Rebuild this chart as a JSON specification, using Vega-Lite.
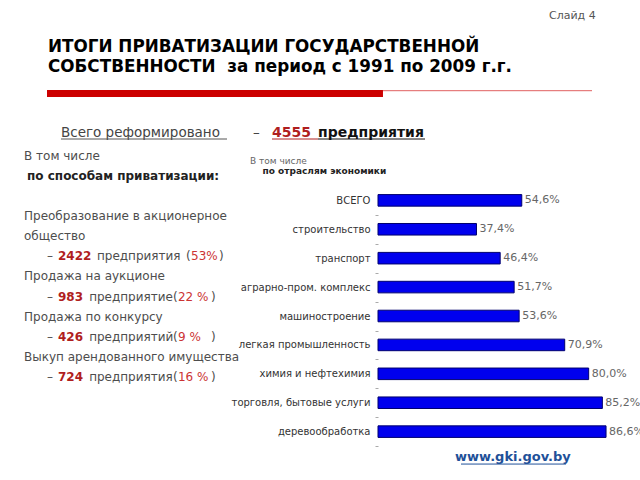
{
  "$schema": "https://vega.github.io/schema/vega-lite/v6.json",
  "background": "white",
  "padding": {"left": 24, "top": 10, "right": 0, "bottom": 0},
  "bounds": "flush",
  "spacing": 0,
  "config": {
    "font": "DejaVu Sans",
    "view": {"stroke": null},
    "locale": {"number": {"decimal": ",", "thousands": "\u00a0", "grouping": [3], "currency": ["", ""]}}
  },
  "datasets": {
    "lines": [
      {"line": 0, "t": "В том числе"},
      {"line": 1, "t": "по способам приватизации:"},
      {"line": 3, "t": "Преобразование в акционерное"},
      {"line": 4, "t": "общество"},
      {"line": 6, "t": "Продажа на аукционе"},
      {"line": 8, "t": "Продажа по конкурсу"},
      {"line": 10, "t": "Выкуп арендованного имущества"}
    ],
    "methods": [
      {"line": 5, "count": 2422, "word": "предприятия", "pct": "53%"},
      {"line": 7, "count": 983, "word": "предприятие", "pct": "22 %"},
      {"line": 9, "count": 426, "word": "предприятий", "pct": "\u20079 %"},
      {"line": 11, "count": 724, "word": "предприятия", "pct": "16 %"}
    ],
    "sectors": [
      {"sector": "ВСЕГО", "share": 0.546},
      {"sector": "строительство", "share": 0.374},
      {"sector": "транспорт", "share": 0.464},
      {"sector": "аграрно-пром. комплекс", "share": 0.517},
      {"sector": "машиностроение", "share": 0.536},
      {"sector": "легкая промышленность", "share": 0.709},
      {"sector": "химия и нефтехимия", "share": 0.8},
      {"sector": "торговля, бытовые услуги", "share": 0.852},
      {"sector": "деревообработка", "share": 0.866}
    ],
    "source": [
      {"line": 15, "t": "www.gki.gov.by"}
    ]
  },
  "title": {"text": "Слайд 4", "anchor": "start", "frame": "group", "fontSize": 11, "fontWeight": "normal", "color": "#555555", "dx": 525, "offset": 18},
  "vconcat": [
    {
      "width": 568,
      "height": 7,
      "title": {
        "text": ["ИТОГИ ПРИВАТИЗАЦИИ ГОСУДАРСТВЕННОЙ", "СОБСТВЕННОСТИ\u00a0 за период с 1991 по 2009 г.г."],
        "anchor": "start", "frame": "group", "dx": 24, "fontSize": 16.8, "fontWeight": "bold", "color": "#000000", "lineHeight": 20, "offset": 14
      },
      "layer": [
        {
          "data": {"values": [{"part": "thick"}]},
          "mark": {"type": "rect", "color": "#cc0000"},
          "encoding": {
            "x": {"datum": 0.0405, "type": "quantitative", "scale": {"domain": [0, 1]}, "axis": null},
            "x2": {"datum": 0.632}
          }
        },
        {
          "data": {"values": [{"part": "thin"}]},
          "mark": {"type": "rule", "color": "#e06060", "strokeWidth": 1},
          "encoding": {
            "x": {"datum": 0.632, "type": "quantitative", "scale": {"domain": [0, 1]}, "axis": null},
            "x2": {"datum": 1},
            "y": {"datum": 0.9, "type": "quantitative", "scale": {"domain": [0, 1]}, "axis": null}
          }
        }
      ]
    },
    {
      "width": 568,
      "height": 84,
      "layer": [
        {
          "data": {"values": [{"t": "Всего реформировано"}]},
          "mark": {"type": "text", "align": "left", "baseline": "middle", "fontSize": 13.5, "color": "#444444", "dy": -6},
          "encoding": {"x": {"datum": 0.0651, "type": "quantitative", "scale": {"domain": [0, 1]}, "axis": null}, "text": {"field": "t"}}
        },
        {
          "data": {"values": [{"t": "–"}]},
          "mark": {"type": "text", "align": "left", "baseline": "middle", "fontSize": 13.5, "color": "#444444", "dy": -6},
          "encoding": {"x": {"datum": 0.4032, "type": "quantitative", "scale": {"domain": [0, 1]}, "axis": null}, "text": {"field": "t"}}
        },
        {
          "data": {"values": [{"total": 4555}]},
          "mark": {"type": "text", "align": "left", "baseline": "middle", "fontSize": 14, "fontWeight": "bold", "color": "#b01e1e", "dy": -6},
          "encoding": {"x": {"datum": 0.4366, "type": "quantitative", "scale": {"domain": [0, 1]}, "axis": null}, "text": {"field": "total", "type": "quantitative", "format": "d"}}
        },
        {
          "data": {"values": [{"t": "предприятия"}]},
          "mark": {"type": "text", "align": "left", "baseline": "middle", "fontSize": 14, "fontWeight": "bold", "color": "#111111", "dy": -6},
          "encoding": {"x": {"datum": 0.5176, "type": "quantitative", "scale": {"domain": [0, 1]}, "axis": null}, "text": {"field": "t"}}
        },
        {
          "data": {"values": [{"u": "a"}]},
          "mark": {"type": "rule", "color": "#555555", "strokeWidth": 1},
          "encoding": {
            "x": {"datum": 0.0651, "type": "quantitative", "scale": {"domain": [0, 1]}, "axis": null},
            "x2": {"datum": 0.3574},
            "y": {"datum": 0.5, "type": "quantitative", "scale": {"domain": [0, 1]}, "axis": null}
          }
        },
        {
          "data": {"values": [{"u": "b"}]},
          "mark": {"type": "rule", "color": "#b01e1e", "strokeWidth": 1},
          "encoding": {
            "x": {"datum": 0.4366, "type": "quantitative", "scale": {"domain": [0, 1]}, "axis": null},
            "x2": {"datum": 0.5176},
            "y": {"datum": 0.5, "type": "quantitative", "scale": {"domain": [0, 1]}, "axis": null}
          }
        },
        {
          "data": {"values": [{"u": "c"}]},
          "mark": {"type": "rule", "color": "#111111", "strokeWidth": 1},
          "encoding": {
            "x": {"datum": 0.5176, "type": "quantitative", "scale": {"domain": [0, 1]}, "axis": null},
            "x2": {"datum": 0.706},
            "y": {"datum": 0.5, "type": "quantitative", "scale": {"domain": [0, 1]}, "axis": null}
          }
        }
      ]
    },
    {
      "bounds": "flush",
      "spacing": 0,
      "hconcat": [
        {
          "width": 354,
          "height": 270,
          "encoding": {
            "y": {"field": "line", "type": "quantitative", "scale": {"domain": [1.245, 14.69], "reverse": true, "nice": false, "zero": false}, "axis": null}
          },
          "layer": [
            {
              "data": {"name": "lines"},
              "transform": [{"filter": "datum.line != 1"}],
              "mark": {"type": "text", "align": "left", "baseline": "middle", "fontSize": 12, "color": "#4d4d4d"},
              "encoding": {"x": {"datum": 0, "type": "quantitative", "scale": {"domain": [0, 1]}, "axis": null}, "text": {"field": "t"}}
            },
            {
              "data": {"name": "lines"},
              "transform": [{"filter": "datum.line == 1"}],
              "mark": {"type": "text", "align": "left", "baseline": "middle", "fontSize": 12, "fontWeight": "bold", "color": "#222222"},
              "encoding": {"x": {"datum": 0.0085, "type": "quantitative", "scale": {"domain": [0, 1]}, "axis": null}, "text": {"field": "t"}}
            },
            {
              "data": {"name": "methods"},
              "mark": {"type": "text", "align": "left", "baseline": "middle", "fontSize": 12, "color": "#4d4d4d", "text": "–"},
              "encoding": {"x": {"datum": 0.065, "type": "quantitative", "scale": {"domain": [0, 1]}, "axis": null}}
            },
            {
              "data": {"name": "methods"},
              "mark": {"type": "text", "align": "left", "baseline": "middle", "fontSize": 12, "fontWeight": "bold", "color": "#b01e1e"},
              "encoding": {"x": {"datum": 0.096, "type": "quantitative", "scale": {"domain": [0, 1]}, "axis": null}, "text": {"field": "count", "type": "quantitative", "format": "d"}}
            },
            {
              "data": {"name": "methods"},
              "transform": [{"filter": "datum.count >= 1000"}],
              "mark": {"type": "text", "align": "left", "baseline": "middle", "fontSize": 12, "color": "#4d4d4d"},
              "encoding": {"x": {"datum": 0.206, "type": "quantitative", "scale": {"domain": [0, 1]}, "axis": null}, "text": {"field": "word"}}
            },
            {
              "data": {"name": "methods"},
              "transform": [{"filter": "datum.count < 1000"}],
              "mark": {"type": "text", "align": "left", "baseline": "middle", "fontSize": 12, "color": "#4d4d4d"},
              "encoding": {"x": {"datum": 0.184, "type": "quantitative", "scale": {"domain": [0, 1]}, "axis": null}, "text": {"field": "word"}}
            },
            {
              "data": {"name": "methods"},
              "transform": [{"filter": "datum.count >= 1000"}],
              "mark": {"type": "text", "align": "left", "baseline": "middle", "fontSize": 12, "color": "#4d4d4d", "text": "("},
              "encoding": {"x": {"datum": 0.4576, "type": "quantitative", "scale": {"domain": [0, 1]}, "axis": null}}
            },
            {
              "data": {"name": "methods"},
              "transform": [{"filter": "datum.count < 1000"}],
              "mark": {"type": "text", "align": "left", "baseline": "middle", "fontSize": 12, "color": "#4d4d4d", "text": "("},
              "encoding": {"x": {"datum": 0.4209, "type": "quantitative", "scale": {"domain": [0, 1]}, "axis": null}}
            },
            {
              "data": {"name": "methods"},
              "transform": [{"filter": "datum.count >= 1000"}],
              "mark": {"type": "text", "align": "left", "baseline": "middle", "fontSize": 12, "color": "#cc3333"},
              "encoding": {"x": {"datum": 0.4718, "type": "quantitative", "scale": {"domain": [0, 1]}, "axis": null}, "text": {"field": "pct"}}
            },
            {
              "data": {"name": "methods"},
              "transform": [{"filter": "datum.count < 1000"}],
              "mark": {"type": "text", "align": "left", "baseline": "middle", "fontSize": 12, "color": "#cc3333"},
              "encoding": {"x": {"datum": 0.435, "type": "quantitative", "scale": {"domain": [0, 1]}, "axis": null}, "text": {"field": "pct"}}
            },
            {
              "data": {"name": "methods"},
              "transform": [{"filter": "datum.count >= 1000"}],
              "mark": {"type": "text", "align": "left", "baseline": "middle", "fontSize": 12, "color": "#4d4d4d", "text": ")"},
              "encoding": {"x": {"datum": 0.551, "type": "quantitative", "scale": {"domain": [0, 1]}, "axis": null}}
            },
            {
              "data": {"name": "methods"},
              "transform": [{"filter": "datum.count < 1000"}],
              "mark": {"type": "text", "align": "left", "baseline": "middle", "fontSize": 12, "color": "#4d4d4d", "text": ")"},
              "encoding": {"x": {"datum": 0.5282, "type": "quantitative", "scale": {"domain": [0, 1]}, "axis": null}}
            },
            {
              "data": {"name": "source"},
              "mark": {"type": "text", "align": "center", "baseline": "middle", "fontSize": 13, "fontWeight": "bold", "color": "#1f5199"},
              "encoding": {"x": {"datum": 1.381, "type": "quantitative", "scale": {"domain": [0, 1]}, "axis": null}, "text": {"field": "t"}}
            },
            {
              "data": {"name": "source"},
              "mark": {"type": "rule", "color": "#1f5199", "strokeWidth": 1},
              "encoding": {
                "x": {"datum": 1.2345, "type": "quantitative", "scale": {"domain": [0, 1]}, "axis": null},
                "x2": {"datum": 1.531},
                "y": {"datum": 15.34, "type": "quantitative"}
              }
            }
          ]
        },
        {
          "width": 237,
          "height": 270,
          "title": {
            "text": "В том числе",
            "subtitle": "\u200b\u00a0\u00a0\u00a0\u00a0по отраслям экономики",
            "anchor": "start", "frame": "group", "dx": -128, "offset": 5,
            "fontSize": 9, "fontWeight": "normal", "color": "#666666",
            "subtitleFontSize": 9, "subtitleFontWeight": "bold", "subtitleColor": "#222222", "subtitlePadding": 1
          },
          "data": {"name": "sectors"},
          "encoding": {
            "y": {"field": "sector", "type": "nominal", "sort": null,
                  "scale": {"paddingInner": 0.6, "paddingOuter": 0.47},
                  "axis": {"title": null, "domain": false, "ticks": true, "tickSize": 3, "tickColor": "#aaaaaa", "tickOffset": 14.5, "labelOffset": -14.5, "labelPadding": 5, "labelFontSize": 10, "labelColor": "#333333", "labelFont": "DejaVu Sans"}}
          },
          "layer": [
            {
              "mark": {"type": "bar", "color": "#0000ee", "stroke": "#00006e", "strokeWidth": 1},
              "encoding": {"x": {"field": "share", "type": "quantitative", "scale": {"domain": [0, 0.9]}, "axis": null}}
            },
            {
              "mark": {"type": "text", "align": "left", "baseline": "middle", "dx": 3, "fontSize": 11, "color": "#666666"},
              "encoding": {
                "x": {"field": "share", "type": "quantitative"},
                "text": {"field": "share", "type": "quantitative", "format": ".1%"}
              }
            }
          ]
        }
      ]
    }
  ]
}
